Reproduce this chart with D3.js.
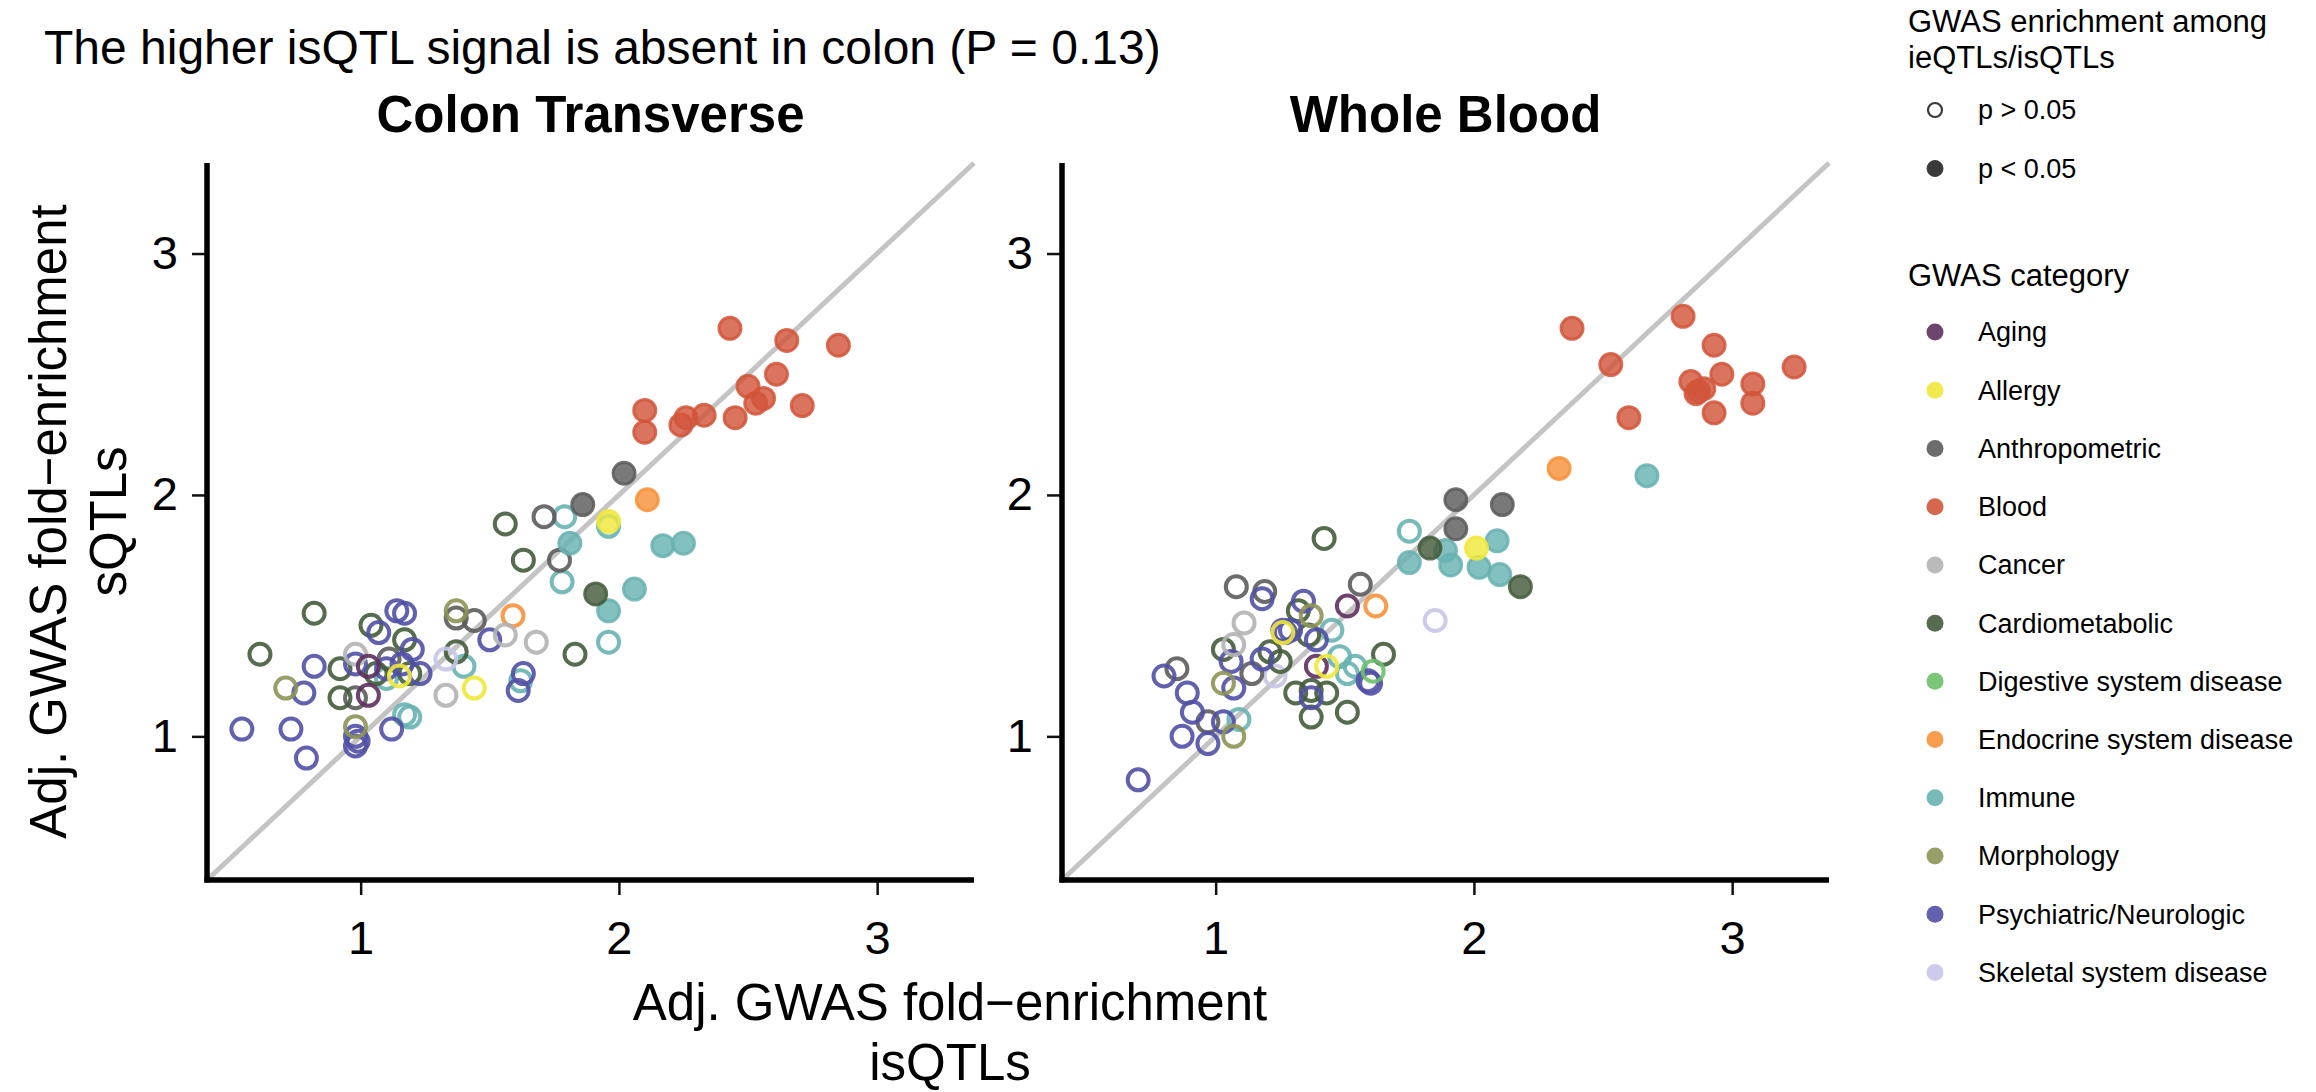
<!DOCTYPE html>
<html>
<head>
<meta charset="utf-8">
<script src="https://cdn.jsdelivr.net/npm/d3@7"></script>
<style>
  body { margin: 0; background: #fff; }
  text { font-family: "Liberation Sans", Arial, Helvetica, sans-serif; }
</style>
</head>
<body>
<div id="chart"></div>
<script>
// categories and their colours (legend order)
var categories = ["Aging", "Allergy", "Anthropometric", "Blood", "Cancer", "Cardiometabolic",
  "Digestive system disease", "Endocrine system disease", "Immune", "Morphology",
  "Psychiatric/Neurologic", "Skeletal system disease"];
var catCodes = ["AG", "AL", "AN", "BL", "CA", "CM", "DI", "EN", "IM", "MO", "PN", "SK"];
var catColors = ["#5e2f5e", "#f0e83c", "#5c5c5c", "#d2553a", "#b3b3b3", "#445c3c",
  "#6cc06a", "#f7923a", "#68b2b2", "#8e9456", "#5050a6", "#c6c6e8"];

var panelTitles = ["Colon Transverse", "Whole Blood"];
var tickValues = [1, 2, 3];

// [isQTL fold-enrichment, sQTL fold-enrichment, category, p < 0.05]
var colonPoints = [
  [1.79, 1.91, "IM", 0], [1.78, 1.64, "IM", 0], [1.96, 1.39, "IM", 0], [1.40, 1.29, "IM", 0],
  [1.10, 1.24, "IM", 0], [1.17, 1.09, "IM", 0], [1.19, 1.08, "IM", 0], [1.62, 1.23, "IM", 0],
  [1.96, 1.87, "IM", 0],
  [1.71, 1.91, "AN", 0], [1.77, 1.73, "AN", 0], [1.37, 1.49, "AN", 0], [1.44, 1.48, "AN", 0],
  [1.11, 1.32, "AN", 0], [0.98, 1.16, "AN", 0],
  [1.56, 1.88, "CM", 0], [1.63, 1.73, "CM", 0], [0.82, 1.51, "CM", 0], [1.04, 1.46, "CM", 0],
  [1.17, 1.40, "CM", 0], [1.83, 1.34, "CM", 0], [0.61, 1.34, "CM", 0], [0.92, 1.28, "CM", 0],
  [1.06, 1.26, "CM", 0], [1.19, 1.26, "CM", 0], [1.37, 1.35, "CM", 0], [0.92, 1.16, "CM", 0],
  [1.14, 1.52, "PN", 0], [1.17, 1.51, "PN", 0], [1.07, 1.43, "PN", 0], [1.20, 1.36, "PN", 0],
  [1.50, 1.40, "PN", 0], [0.82, 1.29, "PN", 0], [0.98, 1.30, "PN", 0], [1.10, 1.28, "PN", 0],
  [1.23, 1.26, "PN", 0], [1.16, 1.30, "PN", 0], [0.78, 1.18, "PN", 0], [1.63, 1.26, "PN", 0],
  [1.61, 1.19, "PN", 0], [0.54, 1.03, "PN", 0], [0.73, 1.03, "PN", 0], [0.98, 1.00, "PN", 0],
  [0.98, 0.96, "PN", 0], [0.99, 0.98, "PN", 0], [1.12, 1.03, "PN", 0], [0.79, 0.91, "PN", 0],
  [1.37, 1.52, "MO", 0], [0.71, 1.20, "MO", 0], [0.98, 1.04, "MO", 0],
  [1.59, 1.50, "EN", 0],
  [1.56, 1.42, "CA", 0], [1.68, 1.39, "CA", 0], [1.33, 1.17, "CA", 0], [0.98, 1.34, "CA", 0],
  [1.03, 1.29, "AG", 0], [1.03, 1.17, "AG", 0],
  [1.15, 1.25, "AL", 0], [1.44, 1.20, "AL", 0],
  [1.33, 1.32, "SK", 0],
  [2.43, 2.69, "BL", 1], [2.65, 2.64, "BL", 1], [2.85, 2.62, "BL", 1], [2.61, 2.50, "BL", 1],
  [2.50, 2.45, "BL", 1], [2.53, 2.38, "BL", 1], [2.56, 2.40, "BL", 1], [2.71, 2.37, "BL", 1],
  [2.10, 2.35, "BL", 1], [2.10, 2.26, "BL", 1], [2.26, 2.32, "BL", 1], [2.24, 2.29, "BL", 1],
  [2.33, 2.33, "BL", 1], [2.45, 2.32, "BL", 1],
  [2.02, 2.09, "AN", 1], [1.86, 1.96, "AN", 1],
  [2.11, 1.98, "EN", 1],
  [1.96, 1.89, "AL", 1],
  [2.17, 1.79, "IM", 1], [2.25, 1.80, "IM", 1], [1.81, 1.80, "IM", 1], [2.06, 1.61, "IM", 1],
  [1.96, 1.52, "IM", 1],
  [1.91, 1.59, "CM", 1]
];

var bloodPoints = [
  [1.75, 1.85, "IM", 0], [1.45, 1.44, "IM", 0], [1.48, 1.33, "IM", 0], [1.51, 1.26, "IM", 0],
  [1.54, 1.29, "IM", 0], [1.09, 1.07, "IM", 0],
  [1.85, 1.48, "SK", 0], [1.23, 1.25, "SK", 0],
  [1.42, 1.82, "CM", 0], [1.32, 1.52, "CM", 0], [1.36, 1.42, "CM", 0], [1.03, 1.36, "CM", 0],
  [1.21, 1.35, "CM", 0], [1.25, 1.31, "CM", 0], [1.65, 1.34, "CM", 0], [1.31, 1.18, "CM", 0],
  [1.37, 1.19, "CM", 0], [1.43, 1.18, "CM", 0], [1.37, 1.08, "CM", 0], [1.51, 1.10, "CM", 0],
  [1.08, 1.62, "AN", 0], [1.19, 1.60, "AN", 0], [1.56, 1.63, "AN", 0], [1.14, 1.26, "AN", 0],
  [0.85, 1.28, "AN", 0], [0.97, 1.06, "AN", 0],
  [1.18, 1.57, "PN", 0], [1.34, 1.56, "PN", 0], [1.26, 1.44, "PN", 0], [1.27, 1.43, "PN", 0],
  [1.29, 1.44, "PN", 0], [1.39, 1.40, "PN", 0], [1.06, 1.31, "PN", 0], [1.18, 1.32, "PN", 0],
  [1.07, 1.20, "PN", 0], [0.80, 1.25, "PN", 0], [0.89, 1.18, "PN", 0], [0.91, 1.10, "PN", 0],
  [1.03, 1.06, "PN", 0], [0.87, 1.00, "PN", 0], [0.97, 0.97, "PN", 0], [0.70, 0.82, "PN", 0],
  [1.59, 1.23, "PN", 0], [1.60, 1.22, "PN", 0], [1.37, 1.16, "PN", 0],
  [1.51, 1.54, "AG", 0], [1.39, 1.29, "AG", 0],
  [1.62, 1.54, "EN", 0],
  [1.37, 1.50, "MO", 0], [1.03, 1.22, "MO", 0], [1.07, 1.00, "MO", 0],
  [1.11, 1.47, "CA", 0], [1.07, 1.38, "CA", 0],
  [1.26, 1.43, "AL", 0], [1.43, 1.29, "AL", 0],
  [1.61, 1.27, "DI", 0],
  [2.38, 2.69, "BL", 1], [2.81, 2.74, "BL", 1], [2.53, 2.54, "BL", 1], [2.93, 2.62, "BL", 1],
  [2.96, 2.50, "BL", 1], [3.24, 2.53, "BL", 1], [2.84, 2.47, "BL", 1], [2.87, 2.43, "BL", 1],
  [2.86, 2.42, "BL", 1], [2.89, 2.44, "BL", 1], [3.08, 2.46, "BL", 1], [3.08, 2.38, "BL", 1],
  [2.93, 2.34, "BL", 1], [2.60, 2.32, "BL", 1],
  [2.33, 2.11, "EN", 1],
  [2.67, 2.08, "IM", 1], [1.89, 1.77, "IM", 1], [1.75, 1.72, "IM", 1], [1.91, 1.71, "IM", 1],
  [2.09, 1.81, "IM", 1], [2.02, 1.70, "IM", 1], [2.10, 1.67, "IM", 1],
  [1.93, 1.98, "AN", 1], [2.11, 1.96, "AN", 1], [1.93, 1.86, "AN", 1],
  [1.83, 1.78, "CM", 1], [2.18, 1.62, "CM", 1],
  [2.01, 1.78, "AL", 1]
];

var panelData = [colonPoints, bloodPoints];

// svg container
var svgWidth = 2316;
var svgHeight = 1092;

var svg = d3.select("#chart").append("svg")
  .attr("width", svgWidth)
  .attr("height", svgHeight);

// panel boxes
var panelLeft = [207, 1062];
var panelWidth = 767;
var panelTop = 163;
var panelBottom = 880;

var color = d3.scaleOrdinal().domain(catCodes).range(catColors);

// shared limits for both axes and panels, 5% padding like ggplot
var allVals = [];
panelData.forEach(function(pts) {
  pts.forEach(function(p) { allVals.push(p[0], p[1]); });
});
var ext = d3.extent(allVals);
var pad = (ext[1] - ext[0]) * 0.05;
var lims = [ext[0] - pad, ext[1] + pad];

var yScale = d3.scaleLinear().domain(lims).range([panelBottom, panelTop]);

panelData.forEach(function(pts, i) {
  var x0 = panelLeft[i];
  var xScale = d3.scaleLinear().domain(lims).range([x0, x0 + panelWidth]);
  var g = svg.append("g");

  // diagonal y = x
  g.append("line")
    .attr("x1", xScale(lims[0])).attr("y1", yScale(lims[0]))
    .attr("x2", xScale(lims[1])).attr("y2", yScale(lims[1]))
    .attr("stroke", "#c4c4c4")
    .attr("stroke-width", 5);

  // axes
  var xAxis = g.append("g")
    .attr("transform", `translate(0, ${panelBottom})`)
    .call(d3.axisBottom(xScale).tickValues(tickValues).tickFormat(d3.format("d"))
      .tickSize(15).tickPadding(26));
  var yAxis = g.append("g")
    .attr("transform", `translate(${x0}, 0)`)
    .call(d3.axisLeft(yScale).tickValues(tickValues).tickFormat(d3.format("d"))
      .tickSize(15).tickPadding(14));

  [xAxis, yAxis].forEach(function(ax) {
    ax.select(".domain").remove();
    ax.selectAll(".tick line").attr("stroke", "#111").attr("stroke-width", 2.5);
    ax.selectAll(".tick text")
      .attr("fill", "#000")
      .style("font-size", "47px")
      .style("font-family", "'Liberation Sans', Arial, sans-serif");
  });

  // thick axis lines
  g.append("line")
    .attr("x1", x0).attr("y1", panelTop)
    .attr("x2", x0).attr("y2", panelBottom + 2.5)
    .attr("stroke", "#000").attr("stroke-width", 5.5);
  g.append("line")
    .attr("x1", x0 - 2.5).attr("y1", panelBottom)
    .attr("x2", x0 + panelWidth).attr("y2", panelBottom)
    .attr("stroke", "#000").attr("stroke-width", 5.5);

  // points
  g.selectAll("circle.pt")
    .data(pts)
    .enter()
    .append("circle")
    .attr("class", "pt")
    .attr("cx", d => xScale(d[0]))
    .attr("cy", d => yScale(d[1]))
    .attr("r", d => d[3] ? 11 : 10.5)
    .attr("fill", d => d[3] ? color(d[2]) : "none")
    .attr("fill-opacity", 0.82)
    .attr("stroke", d => color(d[2]))
    .attr("stroke-opacity", d => d[3] ? 0.85 : 0.9)
    .attr("stroke-width", d => d[3] ? 3 : 4);

  // panel title
  svg.append("text")
    .attr("x", x0 + panelWidth / 2)
    .attr("y", 132)
    .attr("text-anchor", "middle")
    .style("font-size", "51px")
    .style("font-weight", "bold")
    .text(panelTitles[i]);
});

// main title
svg.append("text")
  .attr("x", 44)
  .attr("y", 64)
  .style("font-size", "48px")
  .text("The higher isQTL signal is absent in colon (P = 0.13)");

// axis titles
var xLab = svg.append("text")
  .attr("text-anchor", "middle")
  .style("font-size", "51px");
xLab.append("tspan").attr("x", 950).attr("y", 1020).text("Adj. GWAS fold\u2212enrichment");
xLab.append("tspan").attr("x", 950).attr("y", 1080).text("isQTLs");

var yMid = (panelTop + panelBottom) / 2;
var yLab = svg.append("text")
  .attr("text-anchor", "middle")
  .attr("transform", `translate(66, ${yMid}) rotate(-90)`)
  .style("font-size", "51px");
yLab.append("tspan").attr("x", 0).attr("y", 0).text("Adj. GWAS fold\u2212enrichment");
yLab.append("tspan").attr("x", 0).attr("y", 60).text("sQTLs");

// legend
var legend = svg.append("g");
var legX = 1908;
var keyX = 1935;
var labX = 1978;

var legTitle = legend.append("text").style("font-size", "31px");
legTitle.append("tspan").attr("x", legX).attr("y", 32).text("GWAS enrichment among");
legTitle.append("tspan").attr("x", legX).attr("y", 68).text("ieQTLs/isQTLs");

var sigLabels = ["p > 0.05", "p < 0.05"];
var sigY = [110, 168.5];
sigLabels.forEach(function(lab, i) {
  legend.append("circle")
    .attr("cx", keyX).attr("cy", sigY[i])
    .attr("r", i ? 8 : 7)
    .attr("fill", i ? "#3a3a3a" : "none")
    .attr("stroke", "#3a3a3a")
    .attr("stroke-width", i ? 1 : 2.2);
  legend.append("text")
    .attr("x", labX).attr("y", sigY[i])
    .attr("dy", "0.35em")
    .style("font-size", "27px")
    .text(lab);
});

legend.append("text")
  .attr("x", legX).attr("y", 286)
  .style("font-size", "31px")
  .text("GWAS category");

var catY = d3.scaleLinear().domain([0, categories.length - 1]).range([332, 972.5]);
legend.selectAll("circle.cat")
  .data(categories)
  .enter()
  .append("circle")
  .attr("class", "cat")
  .attr("cx", keyX)
  .attr("cy", (d, i) => catY(i))
  .attr("r", 8.5)
  .attr("fill", (d, i) => catColors[i])
  .attr("fill-opacity", 0.9);
legend.selectAll("text.cat")
  .data(categories)
  .enter()
  .append("text")
  .attr("class", "cat")
  .attr("x", labX)
  .attr("y", (d, i) => catY(i))
  .attr("dy", "0.35em")
  .style("font-size", "27px")
  .text(d => d);
</script>
</body>
</html>
